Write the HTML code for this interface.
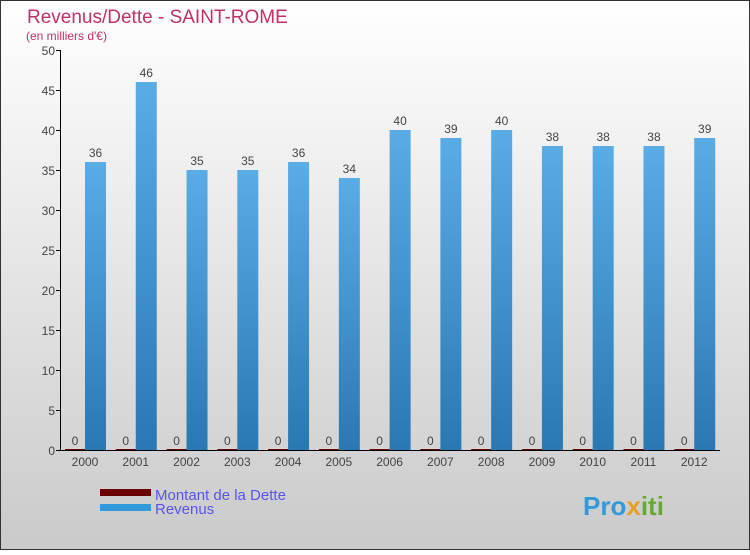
<!DOCTYPE html>
<html><head><meta charset="utf-8"><style>
body{margin:0;width:750px;height:550px;overflow:hidden;font-family:"Liberation Sans",sans-serif}
</style></head><body>
<svg width="750" height="550" xmlns="http://www.w3.org/2000/svg">
<defs>
<linearGradient id="bg" x1="0" y1="0" x2="0" y2="1"><stop offset="0" stop-color="#ffffff"/><stop offset="1" stop-color="#cacaca"/></linearGradient>
<linearGradient id="bar" x1="0" y1="0" x2="0" y2="1"><stop offset="0" stop-color="#5aace6"/><stop offset="1" stop-color="#2a78b2"/></linearGradient>
</defs>
<rect x="0.5" y="0.5" width="749" height="549" fill="url(#bg)" stroke="#333"/>
<text x="27" y="23" font-size="19" fill="#c0306a">Revenus/Dette - SAINT-ROME</text>
<text x="26" y="40" font-size="12" fill="#c0306a">(en milliers d'€)</text>
<g id="yaxis"></g>
<g id="bars"></g>
<g>
<rect x="100" y="489" width="51" height="7" fill="#6b0000"/>
<text x="155" y="500" font-size="15" fill="#5555ee">Montant de la Dette</text>
<rect x="100" y="504" width="51" height="7" fill="#3399dd"/>
<text x="155" y="514" font-size="15" fill="#5555ee">Revenus</text>
</g>
<text x="583" y="515" font-size="26" font-weight="bold" fill="#3399dd">Pro<tspan fill="#e8a020">x</tspan><tspan fill="#66aa33">iti</tspan></text>
</svg>
<script>
const years=["2000","2001","2002","2003","2004","2005","2006","2007","2008","2009","2010","2011","2012"];
const revenus=[36,46,35,35,36,34,40,39,40,38,38,38,39];
const dette=[0,0,0,0,0,0,0,0,0,0,0,0,0];
const yTicks=[0,5,10,15,20,25,30,35,40,45,50];
const NS="http://www.w3.org/2000/svg";
const x0=60,x1=720,yTop=50,yBot=450,yMax=50;
const bw=(x1-x0)/years.length;
const y=v=>yBot-(v/yMax)*(yBot-yTop);
function mk(tag,attrs,parent){const e=document.createElementNS(NS,tag);for(const k in attrs)e.setAttribute(k,attrs[k]);parent.appendChild(e);return e;}
const ya=document.getElementById('yaxis');
let l=mk('line',{x1:x0+0.5,y1:yTop,x2:x0+0.5,y2:yBot,stroke:'#000'},ya);


l=mk('line',{x1:x0,y1:yBot+0.5,x2:x1,y2:yBot+0.5,stroke:'#000'},ya);


yTicks.forEach(t=>{
 const tk=mk('line',{x1:x0-4,y1:y(t)+0.5,x2:x0,y2:y(t)+0.5,stroke:'#000'},ya);
 
 
 const tx=mk('text',{x:x0-5,y:y(t)+5,'text-anchor':'end','font-size':12,fill:'#444'},ya);
 tx.textContent=t;
 
 
});
const bg=document.getElementById('bars');
years.forEach((yr,i)=>{
 const gx=x0+i*bw;
 const d=mk('rect',{x:gx+5,y:y(dette[i])-1,width:20,height:1+(yBot-y(dette[i])),fill:'#6b0000'},bg);
 
 
 const dl=mk('text',{x:gx+15,y:y(dette[i])-5,'text-anchor':'middle','font-size':12,fill:'#444'},bg);
 dl.textContent=dette[i];
 
 
 const r=mk('rect',{x:gx+25,y:y(revenus[i]),width:21,height:yBot-y(revenus[i]),fill:'url(#bar)'},bg);
 
 
 const rl=mk('text',{x:gx+35.5,y:y(revenus[i])-5,'text-anchor':'middle','font-size':12,fill:'#444'},bg);
 rl.textContent=revenus[i];
 
 
 const xl=mk('text',{x:gx+25,y:466,'text-anchor':'middle','font-size':12,fill:'#444'},bg);
 xl.textContent=yr;
 
 
});
</script>
</body></html>
